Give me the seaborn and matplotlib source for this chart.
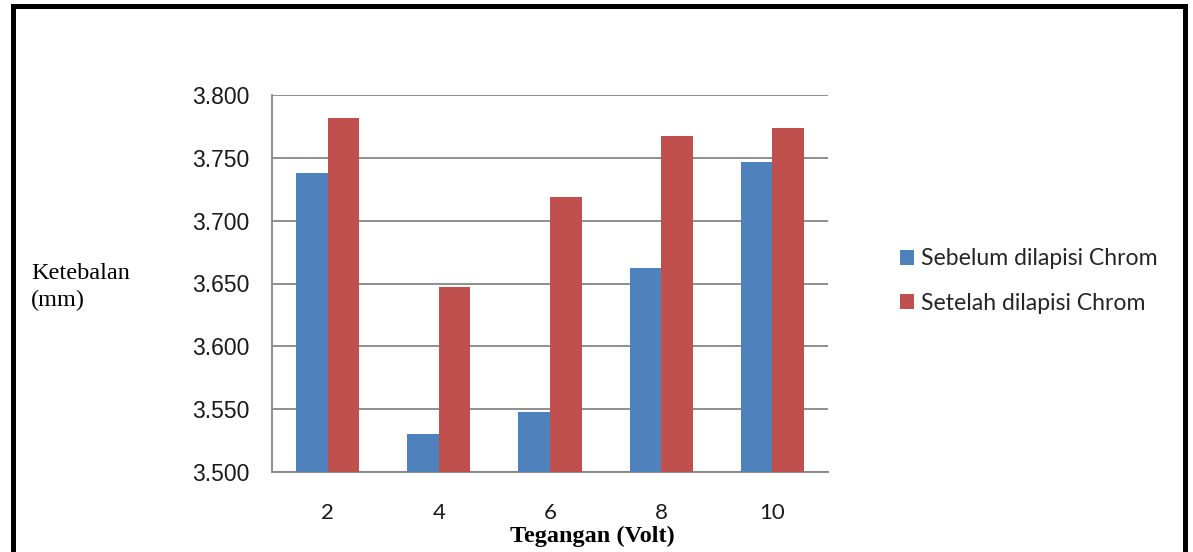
import matplotlib
matplotlib.use("Agg")
import matplotlib.pyplot as plt
from matplotlib.patches import Rectangle
from matplotlib.ticker import FormatStrFormatter, FixedLocator
import seaborn as sns
import pandas as pd

# Ketebalan lapisan terhadap tegangan
tegangan = ["2", "4", "6", "8", "10"]
sebelum = [3.738, 3.530, 3.548, 3.662, 3.747]
setelah = [3.782, 3.647, 3.719, 3.767, 3.774]
series_names = ["Sebelum dilapisi Chrom", "Setelah dilapisi Chrom"]
y_ticks = [3.500, 3.550, 3.600, 3.650, 3.700, 3.750, 3.800]

df = pd.DataFrame({
    "Tegangan": tegangan * 2,
    "Ketebalan": sebelum + setelah,
    "Seri": [series_names[0]] * len(tegangan) + [series_names[1]] * len(tegangan),
})

sns.set_style("white")
W, H = 1193, 552
fig = plt.figure(figsize=(W / 100, H / 100), dpi=100)
ax = fig.add_axes([272 / W, 1 - 472 / H, (828 - 272) / W, (472 - 95) / H])

palette = {series_names[0]: "#4F81BD", series_names[1]: "#C0504D"}
sns.barplot(data=df, x="Tegangan", y="Ketebalan", hue="Seri", order=tegangan,
            hue_order=series_names, palette=palette, width=0.57, gap=0,
            saturation=1, ax=ax, legend=False, linewidth=0, zorder=3)

grid_col = "#868686"
ax.set_ylim(3.5, 3.8)
ax.set_xlim(-0.5, len(tegangan) - 0.5)
ax.set_yticks(y_ticks)
ax.yaxis.set_major_formatter(FormatStrFormatter("%.3f"))
ax.yaxis.grid(True, color=grid_col, linewidth=1.3, zorder=0)
ax.set_axisbelow(True)
for s in ["top", "right"]:
    ax.spines[s].set_visible(False)
for s in ["left", "bottom"]:
    ax.spines[s].set_color(grid_col)
    ax.spines[s].set_linewidth(1.3)

ax.tick_params(axis="y", which="major", direction="out", length=6.5, width=1.3,
               color=grid_col, labelsize=16.5, labelcolor="#1a1a1a", pad=10)
ax.tick_params(axis="x", which="major", length=0, labelsize=16,
               labelcolor="#1a1a1a", pad=22)
ax.xaxis.set_minor_locator(FixedLocator([i - 0.5 for i in range(len(tegangan) + 1)]))
ax.tick_params(axis="x", which="minor", direction="out", length=7, width=1.3,
               color=grid_col)
for lab in ax.get_yticklabels():
    lab.set_fontfamily("Liberation Sans")
for lab in ax.get_xticklabels():
    lab.set_fontfamily("Lato")
ax.set_xlabel("")
ax.set_ylabel("")

# Judul sumbu
fig.text(31 / W, 1 - 287 / H, "Ketebalan\n(mm)", ha="left", va="center",
         fontsize=17.5, family="Liberation Serif", linespacing=1.35, color="black")
fig.text(592 / W, 1 - 536 / H, "Tegangan (Volt)", ha="center", va="center",
         fontsize=17.5, family="Liberation Serif", fontweight="bold", color="black")

# Legenda
handles = [Rectangle((0, 0), 1, 1, facecolor=palette[n], edgecolor="none")
           for n in series_names]
leg = fig.legend(handles, series_names, loc="center left",
                 bbox_to_anchor=(879 / W, 1 - 281 / H), frameon=False,
                 handlelength=0.62, handleheight=0.62, handletextpad=0.3,
                 labelspacing=1.02, prop={"family": "Lato", "size": 16.6})

# Bingkai luar
fig.patches.append(Rectangle((12.5 / W, -0.05), (1184.5 - 12.5) / W,
                             1.05 - 5.5 / H, transform=fig.transFigure,
                             fill=False, edgecolor="black", linewidth=3.6))

fig.savefig("out.png", dpi=100)
